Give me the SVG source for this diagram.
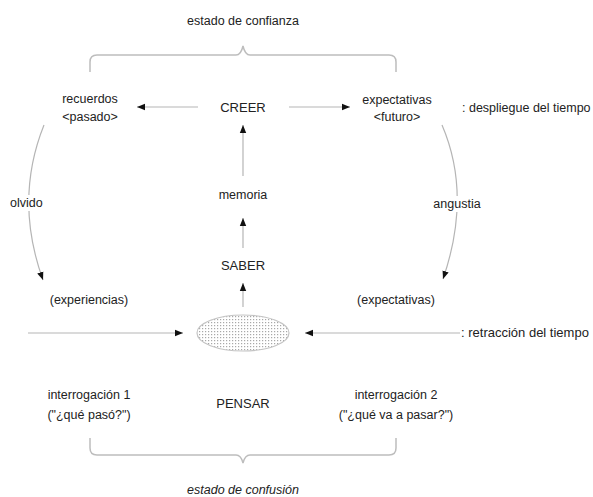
<svg xmlns="http://www.w3.org/2000/svg" width="593" height="497" viewBox="0 0 593 497">
<style>
text{font-family:"Liberation Sans",Arial,sans-serif;font-size:12.5px;fill:#222;}
.big{font-size:13px;}
.side{font-size:13px;}
.c{text-anchor:middle;}
.ln{fill:none;stroke:#b5b5b5;stroke-width:1.2;}
.br{fill:none;stroke:#bdbdbd;stroke-width:1.5;}
</style>
<defs>
<marker id="ah" viewBox="0 0 10 10" refX="10" refY="5" markerWidth="8" markerHeight="8" markerUnits="userSpaceOnUse" orient="auto">
<path d="M0,1 L10,5 L0,9 z" fill="#111"/>
</marker>
<pattern id="dots" width="3" height="3" patternUnits="userSpaceOnUse">
<rect width="3" height="3" fill="#fff"/>
<rect x="1" y="1" width="1.2" height="1.2" fill="#a8a8a8"/>
</pattern>
</defs>
<g id="braces">
<path class="br" d="M90,72 V62 Q90,55 97,55 H236 Q241,55 243,46 Q245,55 250,55 H389 Q396,55 396,62 V72"/>
<path class="br" d="M90,438 V448 Q90,455 97,455 H236 Q241,455 243,463 Q245,455 250,455 H389 Q396,455 396,448 V438"/>
</g>
<g id="connectors">
<line class="ln" x1="198" y1="107" x2="137" y2="107" marker-end="url(#ah)"/>
<line class="ln" x1="289" y1="107" x2="350" y2="107" marker-end="url(#ah)"/>
<line class="ln" x1="243" y1="176" x2="243" y2="125" marker-end="url(#ah)"/>
<line class="ln" x1="243" y1="248" x2="243" y2="218" marker-end="url(#ah)"/>
<line class="ln" x1="243" y1="307" x2="243" y2="283" marker-end="url(#ah)"/>
<line class="ln" x1="28" y1="333" x2="183" y2="333" marker-end="url(#ah)"/>
<line class="ln" x1="460" y1="333" x2="305" y2="333" marker-end="url(#ah)"/>
<path class="ln" d="M44,125 Q14,200 43,280" marker-end="url(#ah)"/>
<path class="ln" d="M442,125 Q472,195 443,279" marker-end="url(#ah)"/>
</g>
<g id="label-confianza"><text class="c" x="243" y="25">estado de confianza</text></g>
<g id="recuerdos"><text class="c" x="90" y="103">recuerdos</text><text class="c" x="90" y="121">&lt;pasado&gt;</text></g>
<g id="creer"><text class="c big" x="243" y="112">CREER</text></g>
<g id="expectativas-futuro"><text class="c" x="397" y="104">expectativas</text><text class="c" x="397" y="121">&lt;futuro&gt;</text></g>
<g id="despliegue"><text x="462" y="112">: despliegue del tiempo</text></g>
<g id="olvido"><rect x="8" y="195" width="40" height="16" fill="#fff"/><text x="10" y="207">olvido</text></g>
<g id="angustia"><rect x="433" y="196" width="50" height="16" fill="#fff"/><text class="c" x="457" y="208">angustia</text></g>
<g id="memoria"><text class="c" x="243" y="199">memoria</text></g>
<g id="saber"><text class="c big" x="243" y="270">SABER</text></g>
<g id="experiencias"><text class="c" x="89" y="304">(experiencias)</text></g>
<g id="expectativas2"><text class="c" x="396" y="304">(expectativas)</text></g>
<g id="ellipse"><ellipse cx="243" cy="333" rx="46" ry="18" fill="url(#dots)" stroke="#c4c4c4" stroke-width="1.2"/></g>
<g id="retraccion"><text class="side" x="461" y="337">: retracción del tiempo</text></g>
<g id="interrogacion1"><text class="c" x="89" y="399">interrogación 1</text><text class="c" x="89" y="419">("¿qué pasó?")</text></g>
<g id="pensar"><text class="c big" x="243" y="408">PENSAR</text></g>
<g id="interrogacion2"><text class="c" x="396" y="399">interrogación 2</text><text class="c" x="396" y="419">("¿qué va a pasar?")</text></g>
<g id="label-confusion"><text class="c" x="243" y="494" font-style="italic">estado de confusión</text></g>
</svg>
